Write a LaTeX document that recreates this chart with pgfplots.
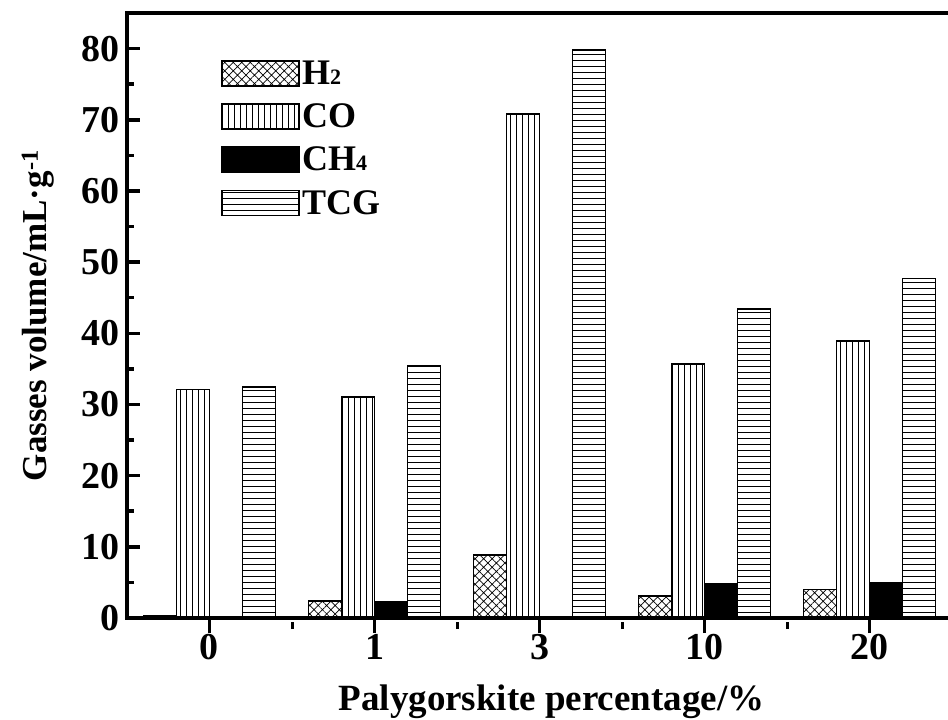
\documentclass[border=0pt]{standalone}
\usepackage{fontspec}
\setmainfont{Liberation Serif}
\usepackage{pgfplots}
\pgfplotsset{compat=1.18}
\usetikzlibrary{patterns.meta}
\pgfplotsset{boxlegend/.style={legend image code/.code={\draw[##1] (0pt,-12.5pt) rectangle (77pt,12.5pt);}}}
\pgfplotstableread{
x H2 CO CH4 TCG
0 0.3 32.1 0.0 32.5
1 2.4 31.0 2.2 35.4
2 8.9 70.8 0.0 79.8
3 3.1 35.7 4.8 43.4
4 4.0 38.9 5.0 47.7
}\gasdata
\begin{document}
\begin{tikzpicture}
\begin{axis}[
  scale only axis,
  width=825pt, height=605pt,
  xmin=-0.5, xmax=4.5, ymin=0, ymax=85,
  axis line style={line width=4.5pt},
  xtick={0,1,2,3,4}, xticklabels={0,1,3,10,20},
  minor xtick={0.5,1.5,2.5,3.5},
  ytick={0,10,...,80}, minor ytick={5,15,...,85},
  xtick pos=bottom, ytick pos=left,
  tick style={line width=3.5pt, black},
  x tick style={line width=3pt},
  major x tick style={yshift=-2pt},
  minor x tick style={yshift=-4pt},
  major tick length=13pt, minor tick length=7pt,
  tick align=inside,
  /pgf/number format/assume math mode=true,
  ticklabel style={font=\fontsize{38}{38}\selectfont\bfseries},
  yticklabel style={xshift=-4pt},
  xlabel={Palygorskite percentage/\%},
  ylabel={Gasses volume/mL·g\textsuperscript{-1}},
  every axis x label/.style={at={(rel axis cs:0.5,0)}, xshift=12pt, yshift=-92pt, anchor=base,
    font=\fontsize{37}{37}\selectfont\bfseries},
  every axis y label/.style={at={(rel axis cs:0,0.5)}, xshift=-80pt, rotate=90, anchor=base,
    font=\fontsize{35}{35}\selectfont\bfseries},
  ybar, bar width=33pt,
  legend style={at={(0.114,0.925)}, anchor=north west, draw=none, fill=none,
    font=\fontsize{36}{36}\selectfont\bfseries, row sep=14pt, inner sep=0pt,
    /tikz/every even column/.append style={column sep=9pt}},
  legend cell align=left,
]
\addplot[bar shift=-49.5pt, draw=black, line width=1.8pt,
  pattern={Hatch[angle=45, distance=6pt, line width=0.7pt]}, pattern color=black, boxlegend]
  table[x=x, y=H2] {\gasdata};
\addlegendentry{H{\fontsize{22}{22}\selectfont 2}}
\addplot[bar shift=-16.5pt, draw=black, line width=1.8pt,
  pattern={Lines[angle=90, distance=6pt, line width=0.8pt]}, pattern color=black, boxlegend]
  table[x=x, y=CO] {\gasdata};
\addlegendentry{CO}
\addplot[bar shift=16.5pt, draw=black, line width=1.8pt, fill=black, boxlegend]
  table[x=x, y=CH4] {\gasdata};
\addlegendentry{CH{\fontsize{22}{22}\selectfont 4}}
\addplot[bar shift=49.5pt, draw=black, line width=1.8pt,
  pattern={Lines[angle=0, distance=6pt, line width=0.8pt]}, pattern color=black, boxlegend]
  table[x=x, y=TCG] {\gasdata};
\addlegendentry{TCG}
\coordinate (bl) at (rel axis cs:0,0);
\coordinate (tl) at (rel axis cs:0,1);
\end{axis}
\pgfresetboundingbox
\path ([xshift=-127pt,yshift=-102pt]bl) rectangle ([xshift=821pt,yshift=13pt]tl);
\end{tikzpicture}
\end{document}
